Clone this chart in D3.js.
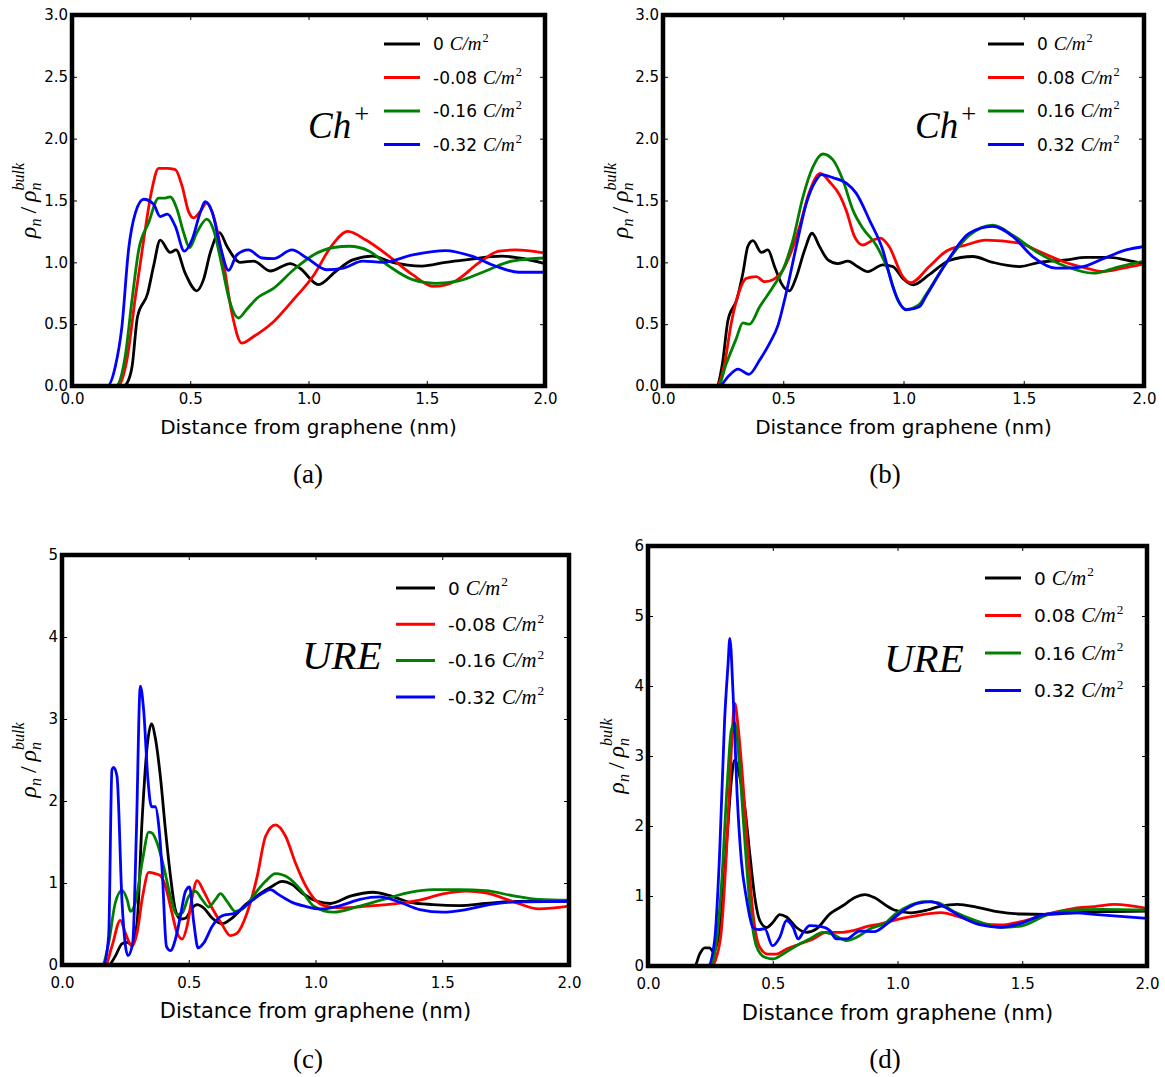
<!DOCTYPE html>
<html>
<head>
<meta charset="utf-8">
<script src="https://cdn.jsdelivr.net/npm/d3@7"></script>
<style>
  body { margin: 0; background: #fff; }
</style>
</head>
<body>
<svg id="fig" width="1165" height="1077"></svg>
<script>
// ---- data: [distance (nm), rho_n / rho_bulk] ----

// (a) Ch+, negative charge
const aBlack = [[0,0],[0.22,0],[0.232,0.02],[0.254,0.157],[0.277,0.56],[0.32,0.75],[0.345,0.97],[0.373,1.18],[0.415,1.08],[0.44,1.10],[0.479,0.91],[0.528,0.77],[0.556,0.86],[0.585,1.08],[0.624,1.24],[0.655,1.13],[0.711,1.0],[0.768,1.01],[0.838,0.93],[0.923,0.99],[0.965,0.95],[1.042,0.82],[1.117,0.93],[1.187,1.02],[1.27,1.05],[1.355,1.0],[1.48,0.97],[1.58,1.0],[1.664,1.02],[1.82,1.05],[1.89,1.035],[2.0,0.99]];
const aRed = [[0,0],[0.195,0],[0.232,0.21],[0.268,0.72],[0.303,1.18],[0.338,1.59],[0.366,1.76],[0.40,1.76],[0.437,1.75],[0.465,1.62],[0.493,1.41],[0.514,1.36],[0.542,1.41],[0.57,1.48],[0.599,1.37],[0.641,0.99],[0.676,0.59],[0.718,0.346],[0.768,0.40],[0.852,0.52],[0.937,0.70],[1.02,0.89],[1.10,1.14],[1.166,1.25],[1.243,1.18],[1.34,1.05],[1.44,0.90],[1.53,0.805],[1.622,0.85],[1.72,0.995],[1.805,1.09],[1.875,1.10],[2.0,1.075]];
const aGreen = [[0,0],[0.185,0],[0.225,0.24],[0.254,0.70],[0.282,1.10],[0.324,1.32],[0.366,1.52],[0.394,1.52],[0.415,1.53],[0.444,1.43],[0.472,1.24],[0.497,1.12],[0.528,1.24],[0.57,1.35],[0.599,1.26],[0.634,0.97],[0.669,0.67],[0.704,0.55],[0.739,0.62],[0.782,0.71],[0.852,0.79],[0.937,0.94],[1.021,1.06],[1.106,1.12],[1.173,1.13],[1.257,1.09],[1.34,0.97],[1.44,0.86],[1.538,0.83],[1.636,0.85],[1.749,0.93],[1.86,1.01],[2.0,1.035]];
const aBlue = [[0,0],[0.15,0],[0.183,0.157],[0.211,0.48],[0.239,1.10],[0.268,1.40],[0.303,1.51],[0.345,1.47],[0.373,1.37],[0.404,1.39],[0.437,1.29],[0.475,1.09],[0.507,1.18],[0.542,1.40],[0.563,1.49],[0.592,1.41],[0.627,1.13],[0.662,0.935],[0.697,1.06],[0.746,1.10],[0.803,1.035],[0.852,1.03],[0.93,1.10],[0.993,1.035],[1.077,0.94],[1.148,0.954],[1.229,1.01],[1.313,1.0],[1.44,1.06],[1.58,1.095],[1.69,1.05],[1.79,0.97],[1.889,0.92],[2.0,0.92]];

// (b) Ch+, positive charge
const bBlack = [[0,0],[0.222,0],[0.247,0.18],[0.27,0.53],[0.307,0.70],[0.332,0.91],[0.353,1.13],[0.374,1.175],[0.409,1.08],[0.436,1.10],[0.464,0.965],[0.492,0.83],[0.526,0.77],[0.554,0.88],[0.589,1.10],[0.62,1.235],[0.651,1.127],[0.686,1.02],[0.727,0.99],[0.769,1.01],[0.81,0.965],[0.852,0.925],[0.914,0.98],[0.956,0.965],[0.997,0.87],[1.04,0.818],[1.107,0.9],[1.19,1.015],[1.2875,1.047],[1.371,1.0],[1.482,0.966],[1.565,1.0],[1.676,1.02],[1.76,1.04],[1.857,1.04],[1.954,1.007],[2.0,0.99]];
const bRed = [[0,0],[0.222,0],[0.256,0.18],[0.284,0.51],[0.319,0.776],[0.346,0.87],[0.388,0.884],[0.422,0.844],[0.457,0.86],[0.499,0.94],[0.533,1.086],[0.568,1.29],[0.609,1.57],[0.654,1.72],[0.693,1.65],[0.734,1.545],[0.762,1.42],[0.796,1.21],[0.831,1.14],[0.873,1.18],[0.904,1.195],[0.94,1.128],[0.997,0.884],[1.03,0.835],[1.107,0.966],[1.176,1.088],[1.26,1.14],[1.343,1.18],[1.482,1.155],[1.565,1.088],[1.6625,1.007],[1.76,0.953],[1.83,0.926],[1.9125,0.953],[2.0,0.988]];
const bGreen = [[0,0],[0.229,0],[0.263,0.18],[0.305,0.385],[0.332,0.51],[0.36,0.50],[0.402,0.64],[0.457,0.80],[0.499,0.94],[0.54,1.18],[0.582,1.53],[0.623,1.77],[0.665,1.876],[0.706,1.83],[0.748,1.665],[0.79,1.42],[0.831,1.275],[0.886,1.14],[0.935,0.94],[0.976,0.695],[1.013,0.62],[1.066,0.66],[1.093,0.737],[1.176,0.99],[1.274,1.22],[1.371,1.30],[1.454,1.22],[1.551,1.088],[1.676,0.966],[1.7875,0.912],[1.899,0.966],[2.0,1.01]];
const bBlue = [[0,0],[0.235,0],[0.27,0.075],[0.312,0.137],[0.357,0.094],[0.402,0.21],[0.443,0.345],[0.478,0.49],[0.512,0.75],[0.554,1.127],[0.596,1.477],[0.637,1.666],[0.658,1.71],[0.706,1.685],[0.762,1.64],[0.803,1.56],[0.859,1.34],[0.914,1.10],[0.956,0.80],[1.011,0.615],[1.066,0.64],[1.093,0.724],[1.176,0.99],[1.274,1.236],[1.371,1.29],[1.454,1.21],[1.537,1.047],[1.634,0.953],[1.732,0.96],[1.843,1.04],[1.926,1.10],[2.0,1.128]];

// (c) URE, negative charge
const cBlack = [[0,0],[0.184,0],[0.21,0.106],[0.237,0.26],[0.257,0.276],[0.276,0.248],[0.296,0.51],[0.316,1.77],[0.336,2.67],[0.353,2.94],[0.368,2.77],[0.388,2.30],[0.408,1.65],[0.428,1.08],[0.447,0.675],[0.467,0.56],[0.487,0.57],[0.513,0.695],[0.533,0.736],[0.559,0.695],[0.592,0.573],[0.632,0.504],[0.671,0.573],[0.724,0.736],[0.776,0.858],[0.829,0.96],[0.868,1.02],[0.908,0.98],[0.947,0.878],[1.007,0.777],[1.059,0.75],[1.137,0.84],[1.228,0.887],[1.294,0.846],[1.372,0.765],[1.463,0.737],[1.568,0.725],[1.672,0.75],[1.79,0.777],[2.0,0.777]];
const cRed = [[0,0],[0.171,0],[0.197,0.228],[0.23,0.545],[0.25,0.39],[0.276,0.228],[0.296,0.39],[0.318,0.837],[0.342,1.13],[0.368,1.114],[0.388,1.09],[0.408,0.96],[0.434,0.634],[0.454,0.39],[0.474,0.317],[0.493,0.47],[0.513,0.817],[0.533,1.03],[0.559,0.898],[0.592,0.695],[0.632,0.49],[0.664,0.358],[0.691,0.39],[0.73,0.634],[0.77,1.08],[0.803,1.57],[0.842,1.71],[0.882,1.57],[0.921,1.244],[0.961,0.967],[1.0,0.79],[1.033,0.725],[1.098,0.696],[1.202,0.717],[1.307,0.745],[1.411,0.79],[1.503,0.866],[1.594,0.9],[1.672,0.88],[1.777,0.777],[1.881,0.684],[2.0,0.717]];
const cGreen = [[0,0],[0.158,0],[0.184,0.268],[0.21,0.756],[0.237,0.91],[0.257,0.797],[0.27,0.654],[0.289,0.756],[0.318,1.285],[0.342,1.62],[0.355,1.61],[0.375,1.49],[0.401,1.2],[0.428,0.837],[0.454,0.614],[0.474,0.634],[0.5,0.837],[0.526,0.898],[0.553,0.797],[0.579,0.707],[0.605,0.797],[0.625,0.87],[0.651,0.776],[0.684,0.654],[0.724,0.715],[0.763,0.878],[0.803,1.02],[0.842,1.114],[0.895,1.06],[0.947,0.898],[0.993,0.717],[1.072,0.644],[1.163,0.708],[1.268,0.8],[1.372,0.887],[1.463,0.92],[1.568,0.92],[1.672,0.907],[1.777,0.846],[1.881,0.8],[2.0,0.79]];
const cBlue = [[0,0],[0.164,0],[0.184,0.35],[0.197,2.38],[0.204,2.41],[0.217,2.30],[0.237,0.756],[0.26,0.114],[0.279,0.268],[0.293,1.57],[0.309,3.40],[0.322,3.11],[0.339,2.26],[0.353,1.93],[0.368,1.93],[0.382,1.69],[0.395,1.16],[0.412,0.228],[0.428,0.175],[0.447,0.309],[0.467,0.594],[0.487,0.898],[0.503,0.951],[0.52,0.512],[0.537,0.207],[0.559,0.268],[0.592,0.47],[0.632,0.6],[0.684,0.634],[0.737,0.756],[0.789,0.87],[0.822,0.92],[0.855,0.858],[0.908,0.764],[0.961,0.715],[1.02,0.684],[1.098,0.725],[1.176,0.8],[1.254,0.83],[1.333,0.765],[1.411,0.676],[1.503,0.644],[1.594,0.676],[1.685,0.737],[1.79,0.77],[2.0,0.777]];

// (d) URE, positive charge
const dBlack = [[0,0],[0.187,0],[0.207,0.17],[0.227,0.26],[0.247,0.26],[0.262,0.2],[0.29,0.6],[0.32,1.99],[0.334,2.65],[0.348,2.94],[0.368,2.70],[0.388,2.27],[0.408,1.60],[0.428,0.98],[0.448,0.65],[0.475,0.55],[0.501,0.625],[0.528,0.735],[0.555,0.70],[0.595,0.55],[0.635,0.48],[0.675,0.53],[0.729,0.745],[0.782,0.864],[0.829,0.98],[0.869,1.02],[0.909,0.974],[0.956,0.86],[0.987,0.8],[1.053,0.76],[1.12,0.8],[1.174,0.857],[1.24,0.88],[1.32,0.838],[1.40,0.776],[1.495,0.743],[1.6,0.738],[1.709,0.76],[1.815,0.776],[2.0,0.786]];
const dRed = [[0,0],[0.254,0],[0.274,0.124],[0.294,0.506],[0.314,1.60],[0.33,2.80],[0.348,3.75],[0.361,3.42],[0.381,2.60],[0.401,1.60],[0.421,0.745],[0.448,0.267],[0.481,0.17],[0.515,0.17],[0.555,0.243],[0.608,0.315],[0.662,0.387],[0.715,0.48],[0.769,0.48],[0.822,0.506],[0.876,0.563],[0.929,0.6],[1.0,0.667],[1.067,0.714],[1.174,0.762],[1.254,0.695],[1.334,0.61],[1.414,0.586],[1.495,0.633],[1.6,0.743],[1.709,0.824],[1.789,0.848],[1.869,0.88],[2.0,0.824]];
const dGreen = [[0,0],[0.247,0],[0.267,0.17],[0.294,1.13],[0.317,2.56],[0.334,3.37],[0.348,3.47],[0.365,2.94],[0.384,1.99],[0.408,0.89],[0.434,0.29],[0.468,0.124],[0.501,0.1],[0.541,0.17],[0.595,0.29],[0.648,0.387],[0.702,0.48],[0.742,0.45],[0.795,0.363],[0.836,0.41],[0.889,0.53],[0.956,0.625],[0.987,0.73],[1.053,0.871],[1.107,0.92],[1.16,0.905],[1.227,0.776],[1.307,0.657],[1.414,0.552],[1.495,0.571],[1.6,0.729],[1.709,0.8],[1.815,0.81],[2.0,0.8]];
const dBlue = [[0,0],[0.24,0],[0.267,0.363],[0.287,1.60],[0.307,3.51],[0.321,4.32],[0.328,4.68],[0.341,3.89],[0.357,2.46],[0.374,1.51],[0.394,0.98],[0.421,0.55],[0.441,0.52],[0.468,0.53],[0.499,0.29],[0.528,0.41],[0.555,0.65],[0.582,0.55],[0.602,0.387],[0.622,0.48],[0.648,0.578],[0.695,0.563],[0.729,0.506],[0.755,0.387],[0.795,0.387],[0.849,0.5],[0.906,0.49],[0.96,0.61],[1.027,0.8],[1.08,0.895],[1.134,0.92],[1.187,0.848],[1.254,0.705],[1.334,0.586],[1.414,0.552],[1.495,0.61],[1.6,0.743],[1.709,0.76],[1.815,0.729],[2.0,0.68]];

// legend + ticks
const negLabels = ['0', '-0.08', '-0.16', '-0.32'];
const posLabels = ['0', '0.08', '0.16', '0.32'];
const xTicks = [0, 0.5, 1.0, 1.5, 2.0];
const yTicksCh = [0, 0.5, 1.0, 1.5, 2.0, 2.5, 3.0];
const yTicksUreC = [0, 1, 2, 3, 4, 5];
const yTicksUreD = [0, 1, 2, 3, 4, 5, 6];

const colors = ['#000000', '#ff0000', '#008000', '#0000ff'];
const SANS = 'DejaVu Sans';
const MATH = 'Liberation Serif';

const svg = d3.select('#fig');

function drawPanel(p) {
  const x = d3.scaleLinear().domain([0, 2]).range([p.left, p.right]);
  const y = d3.scaleLinear().domain([0, p.ymax]).range([p.bottom, p.top]);
  const g = svg.append('g');

  svg.append('clipPath').attr('id', 'clip-' + p.name)
    .append('rect')
    .attr('x', p.left).attr('y', p.top)
    .attr('width', p.right - p.left).attr('height', p.bottom - p.top);

  const line = d3.line()
    .x(d => x(d[0]))
    .y(d => y(d[1]))
    .curve(d3.curveMonotoneX);

  g.append('g').attr('clip-path', `url(#clip-${p.name})`)
    .selectAll('path')
    .data(p.series)
    .enter()
    .append('path')
    .attr('d', d => line(d))
    .attr('fill', 'none')
    .attr('stroke', (d, i) => colors[i])
    .attr('stroke-width', 2.8)
    .attr('stroke-linejoin', 'round');

  // axes, ticks pointing inward on all four sides
  const bottom = g.append('g').attr('transform', `translate(0,${p.bottom})`)
    .call(d3.axisBottom(x).tickValues(xTicks).tickSize(-5).tickPadding(p.xPad).tickFormat(d3.format('.1f')));
  const left = g.append('g').attr('transform', `translate(${p.left},0)`)
    .call(d3.axisLeft(y).tickValues(p.yTicks).tickSize(-5).tickPadding(4).tickFormat(d3.format(p.yFmt)));
  const top = g.append('g').attr('transform', `translate(0,${p.top})`)
    .call(d3.axisTop(x).tickValues(xTicks).tickSize(-5).tickFormat(''));
  const right = g.append('g').attr('transform', `translate(${p.right},0)`)
    .call(d3.axisRight(y).tickValues(p.yTicks).tickSize(-5).tickFormat(''));

  [bottom, left, top, right].forEach(a => {
    a.select('.domain').remove();
    a.selectAll('line').attr('stroke', '#000').attr('stroke-width', 1);
    a.selectAll('text').attr('font-family', SANS).attr('font-size', 15).attr('fill', '#000');
  });

  g.append('rect')
    .attr('x', p.left).attr('y', p.top)
    .attr('width', p.right - p.left).attr('height', p.bottom - p.top)
    .attr('fill', 'none').attr('stroke', '#000').attr('stroke-width', 4.5);

  // x label
  g.append('text')
    .attr('x', (p.left + p.right) / 2).attr('y', p.bottom + p.xlabDy)
    .attr('text-anchor', 'middle')
    .attr('font-family', SANS).attr('font-size', p.xlabSize)
    .text('Distance from graphene (nm)');

  // y label  rho_n / rho_n^bulk
  drawYLabel(g, p.ylabX, (p.top + p.bottom) / 2);

  // legend
  p.labels.forEach((lab, i) => {
    const ly = p.leg.y + i * p.leg.step;
    g.append('line')
      .attr('x1', p.leg.x).attr('x2', p.leg.x + p.leg.len)
      .attr('y1', ly).attr('y2', ly)
      .attr('stroke', colors[i]).attr('stroke-width', 3);
    const t = g.append('text')
      .attr('x', p.leg.x + p.leg.len + 13).attr('y', ly + p.leg.size * 0.36)
      .attr('font-size', p.leg.size);
    t.append('tspan').attr('font-family', SANS).text(lab);
    t.append('tspan').attr('font-family', MATH).attr('font-style', 'italic')
      .attr('dx', 6).attr('font-size', p.leg.size * 1.12).text('C/m');
    t.append('tspan').attr('font-family', MATH)
      .attr('font-size', p.leg.size * 0.72).attr('dx', 1).attr('dy', -p.leg.size * 0.45).text('2');
  });

  // species tag
  const tag = g.append('text')
    .attr('x', p.tag.x).attr('y', p.tag.y)
    .attr('font-family', MATH).attr('font-size', p.tag.size);
  tag.append('tspan').attr('font-style', 'italic').text(p.tag.text);
  if (p.tag.sup) {
    tag.append('tspan').attr('dx', 3).attr('dy', -p.tag.size * 0.4)
      .attr('font-size', p.tag.size * 0.72).text(p.tag.sup);
  }

  // caption
  g.append('text')
    .attr('x', p.capX).attr('y', p.capY)
    .attr('text-anchor', 'middle')
    .attr('font-family', MATH).attr('font-size', 27)
    .text(p.caption);
}

function drawYLabel(g, cx, cy) {
  const grp = g.append('g').attr('transform', `translate(${cx},${cy}) rotate(-90)`);
  const inner = grp.append('g');
  let pos = 0;
  const piece = (txt, size, dy, italic, advance = true) => {
    const t = inner.append('text')
      .attr('x', pos).attr('y', dy)
      .attr('font-family', MATH).attr('font-size', size)
      .attr('font-style', italic ? 'italic' : 'normal')
      .text(txt);
    const w = t.node().getComputedTextLength();
    if (advance) pos += w;
    return w;
  };
  piece('ρ', 24, 0, true);
  piece('n', 16, 5, true);
  pos += 5;
  piece('/', 24, 0, false);
  pos += 5;
  piece('ρ', 24, 0, true);
  const start = pos;
  const wn = piece('n', 16, 5, true, false);
  pos = start;
  const wb = piece('bulk', 16, -12, true, false);
  pos = start + Math.max(wn, wb);
  inner.attr('transform', `translate(${-pos / 2},7)`);
}

const panels = [
  { name: 'a', series: [aBlack, aRed, aGreen, aBlue], labels: negLabels,
    left: 72, right: 545, top: 15, bottom: 386, ymax: 3, yTicks: yTicksCh, yFmt: '.1f', xPad: 7,
    xlabDy: 48, xlabSize: 20, ylabX: 29,
    leg: { x: 384, y: 44, step: 33.5, len: 36, size: 17 },
    tag: { x: 308, y: 138, size: 37, text: 'Ch', sup: '+' },
    capX: 308, capY: 483, caption: '(a)' },
  { name: 'b', series: [bBlack, bRed, bGreen, bBlue], labels: posLabels,
    left: 663, right: 1144, top: 15, bottom: 386, ymax: 3, yTicks: yTicksCh, yFmt: '.1f', xPad: 7,
    xlabDy: 48, xlabSize: 20, ylabX: 621,
    leg: { x: 988, y: 44, step: 33.5, len: 36, size: 17 },
    tag: { x: 915, y: 138, size: 37, text: 'Ch', sup: '+' },
    capX: 885, capY: 483, caption: '(b)' },
  { name: 'c', series: [cBlack, cRed, cGreen, cBlue], labels: negLabels,
    left: 62, right: 569, top: 555, bottom: 965, ymax: 5, yTicks: yTicksUreC, yFmt: 'd', xPad: 12,
    xlabDy: 53, xlabSize: 21, ylabX: 29,
    leg: { x: 396, y: 588, step: 36.3, len: 39, size: 18.5 },
    tag: { x: 302, y: 669, size: 41, text: 'URE' },
    capX: 308, capY: 1068, caption: '(c)' },
  { name: 'd', series: [dBlack, dRed, dGreen, dBlue], labels: posLabels,
    left: 648, right: 1147, top: 546, bottom: 966, ymax: 6, yTicks: yTicksUreD, yFmt: 'd', xPad: 12,
    xlabDy: 54, xlabSize: 21, ylabX: 617,
    leg: { x: 985, y: 578, step: 37.5, len: 36, size: 18.5 },
    tag: { x: 884, y: 672, size: 41, text: 'URE' },
    capX: 885, capY: 1068, caption: '(d)' }
];

panels.forEach(drawPanel);
</script>
</body>
</html>
